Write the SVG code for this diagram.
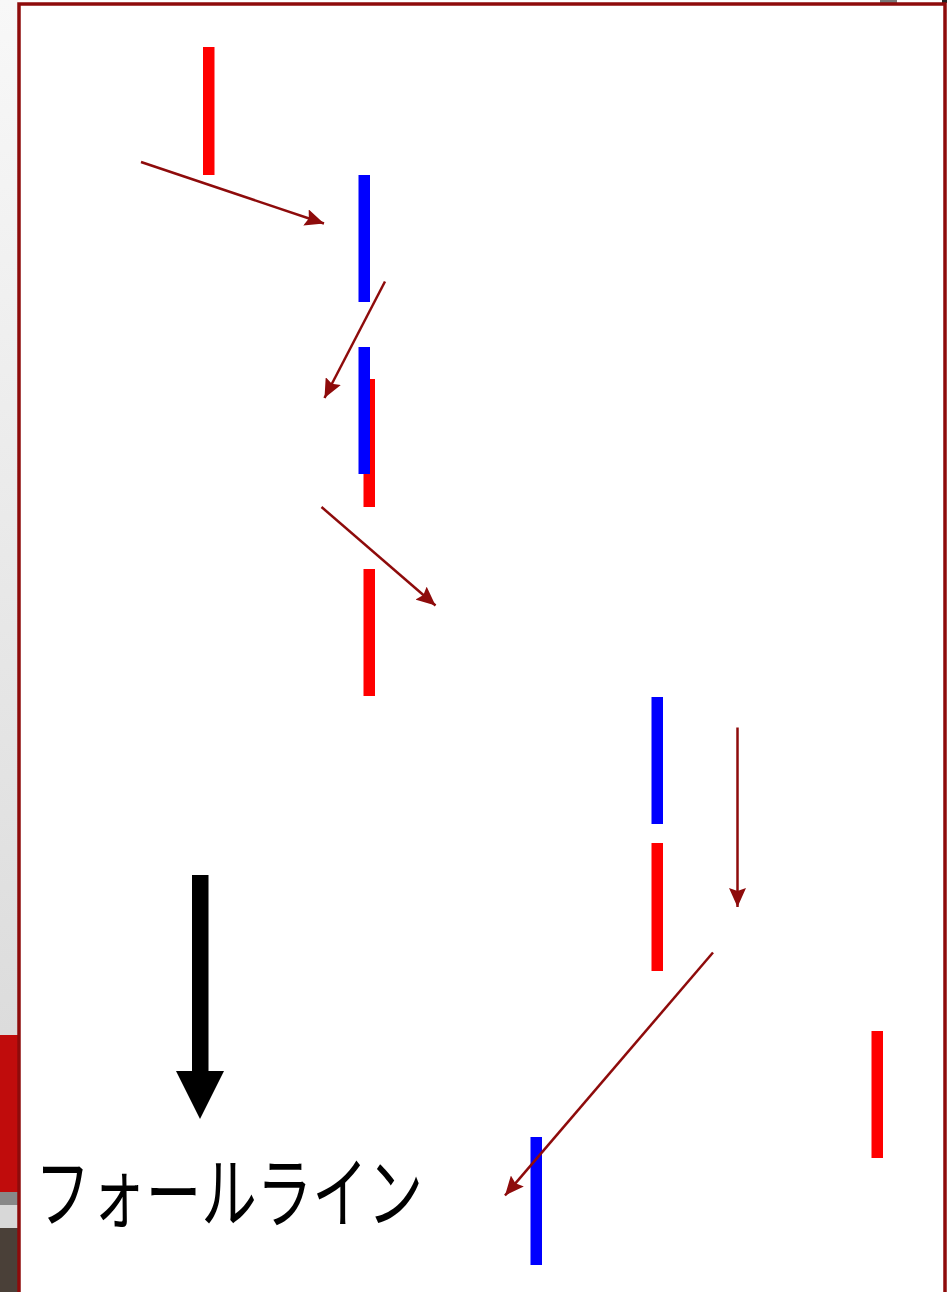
<svg xmlns="http://www.w3.org/2000/svg" width="947" height="1292" viewBox="0 0 947 1292">
<defs>
<linearGradient id="strip" x1="0" y1="0" x2="0" y2="1">
<stop offset="0" stop-color="#f8f8f8"/>
<stop offset="1" stop-color="#dcdcdc"/>
</linearGradient>
<marker id="ah" markerUnits="userSpaceOnUse" markerWidth="20" markerHeight="17" refX="19" refY="8.5" orient="auto">
<path d="M0,0 L19,8.5 L0,17 L3,8.5 Z" fill="#8e0b0b"/>
</marker>
<style>
.red{fill:#ff0000}
.blue{fill:#0000ff}
.conn{stroke:#8e0b0b;stroke-width:2.5;fill:none;marker-end:url(#ah)}
.label{font-family:"Noto Sans CJK JP","Noto Sans",sans-serif;font-size:78px;fill:#000}
</style>
</defs>
<rect x="0" y="0" width="947" height="1292" fill="#ffffff"/>
<g id="background">
<rect x="0" y="0" width="18" height="1035" fill="url(#strip)"/>
<rect x="0" y="1035" width="18" height="157" fill="#c00c0c"/>
<rect x="0" y="1192" width="18" height="13" fill="#888888"/>
<rect x="0" y="1205" width="18" height="23" fill="#d8d8d8"/>
<rect x="0" y="1228" width="18" height="64" fill="#4a4038"/>
<rect x="880" y="0" width="17" height="3" fill="#777777"/>
<rect x="942" y="0" width="5" height="3" fill="#222222"/>
<rect x="19" y="4" width="926" height="1300" fill="#ffffff" stroke="#8e0b0b" stroke-width="3.5"/>
</g>
<g id="candle1"><rect class="red" x="203" y="47" width="11.5" height="128"/></g>
<g id="candle2"><rect class="blue" x="358.5" y="175" width="11.5" height="127"/></g>
<g id="candle3r"><rect class="red" x="363.5" y="379" width="11.5" height="128"/></g>
<g id="candle3b"><rect class="blue" x="358.5" y="347" width="11.5" height="127"/></g>
<g id="candle4"><rect class="red" x="363.5" y="569" width="11.5" height="127"/></g>
<g id="candle5"><rect class="blue" x="651.5" y="697" width="11.5" height="127"/></g>
<g id="candle6"><rect class="red" x="651.5" y="843" width="11.5" height="128"/></g>
<g id="candle7"><rect class="red" x="871.5" y="1031" width="11.5" height="127"/></g>
<g id="candle8"><rect class="blue" x="530.5" y="1137" width="11.5" height="128"/></g>
<g id="connectors">
<line class="conn" x1="141" y1="162" x2="324" y2="223.5"/>
<line class="conn" x1="385" y1="281.5" x2="324.5" y2="398"/>
<line class="conn" x1="321.5" y1="507" x2="435.5" y2="605.5"/>
<line class="conn" x1="737.5" y1="727.5" x2="737.5" y2="907"/>
<line class="conn" x1="713" y1="952.5" x2="505" y2="1195.5"/>
</g>
<g id="fall-arrow">
<rect x="192" y="875" width="16.5" height="197" fill="#000"/>
<path d="M176,1071 L224,1071 L200,1119 Z" fill="#000"/>
</g>
<g id="label">
<text class="label" x="35" y="1222" textLength="388" lengthAdjust="spacingAndGlyphs">フォールライン</text>
</g>
</svg>
